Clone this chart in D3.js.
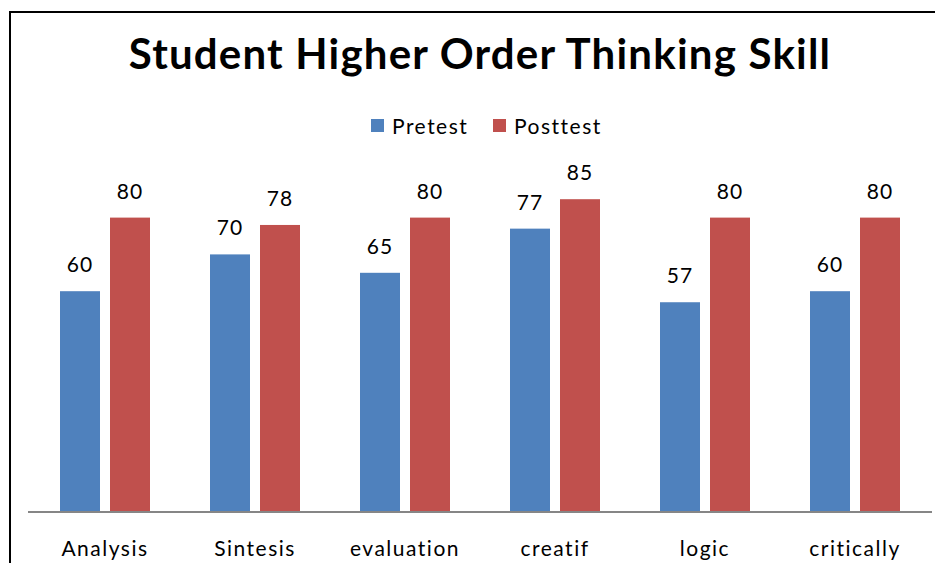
<!DOCTYPE html>
<html>
<head>
<meta charset="utf-8">
<script src="https://cdn.jsdelivr.net/npm/d3@7"></script>
<style>
  body { margin: 0; background: #fff; }
  svg { display: block; font-family: Lato, "Open Sans", sans-serif; }
</style>
</head>
<body>
<svg id="chart" width="935" height="563"></svg>
<script>
const categories = ["Analysis", "Sintesis", "evaluation", "creatif", "logic", "critically"]
const seriesNames = ["Pretest", "Posttest"]
const pretest = [60, 70, 65, 77, 57, 60]
const posttest = [80, 78, 80, 85, 80, 80]
const colors = ["#4F81BD", "#C0504D"]

const data = categories.map((c, i) => ({category: c, values: [pretest[i], posttest[i]]}))

const svg = d3.select("#chart")

// outer frame
svg.append("path")
  .attr("d", "M10,563 L10,12 L935,12")
  .attr("fill", "none")
  .attr("stroke", "#000")
  .attr("stroke-width", 2)

const x = d3.scaleBand()
  .domain(categories)
  .range([30, 930])

const x1 = d3.scaleBand()
  .domain(seriesNames)
  .range([30, 120])
  .paddingInner(0.2)

const y = d3.scaleLinear()
  .domain([0, 100])
  .range([512, 144])

svg.append("text")
  .attr("x", 480)
  .attr("y", 69)
  .attr("text-anchor", "middle")
  .attr("font-size", 42)
  .attr("font-weight", "bold")
  .attr("letter-spacing", 1.2)
  .text("Student Higher Order Thinking Skill")

// legend
const legend = svg.append("g")
const legendX = [371, 493]
seriesNames.forEach((s, i) => {
  legend.append("rect")
    .attr("x", legendX[i]).attr("y", 119)
    .attr("width", 13).attr("height", 13)
    .attr("fill", colors[i])
  legend.append("text")
    .attr("x", legendX[i] + 21).attr("y", 134)
    .attr("font-size", 21)
    .attr("letter-spacing", 1.5)
    .text(s)
})

const groups = svg.append("g")
  .selectAll("g")
  .data(data)
  .join("g")
  .attr("transform", d => `translate(${x(d.category)},0)`)

groups.selectAll("rect")
  .data(d => d.values.map((v, i) => ({key: seriesNames[i], value: v, i})))
  .join("rect")
  .attr("x", d => x1(d.key))
  .attr("y", d => y(d.value))
  .attr("width", x1.bandwidth())
  .attr("height", d => y(0) - y(d.value))
  .attr("fill", d => colors[d.i])

groups.selectAll("text")
  .data(d => d.values.map((v, i) => ({key: seriesNames[i], value: v})))
  .join("text")
  .attr("x", d => x1(d.key) + x1.bandwidth() / 2)
  .attr("y", d => y(d.value) - 19)
  .attr("text-anchor", "middle")
  .attr("font-size", 21)
  .attr("letter-spacing", 1)
  .text(d => d.value)

svg.append("g")
  .attr("transform", "translate(0,512)")
  .call(d3.axisBottom(x).tickSize(0).tickPadding(29).tickSizeOuter(0))
  .call(g => g.select(".domain").attr("stroke", "#868686").attr("stroke-width", 2).attr("d", "M28,0H932"))
  .call(g => g.selectAll("text").attr("font-size", 21).attr("letter-spacing", 1.5)
    .attr("font-family", "Lato, sans-serif").attr("fill", "#000"))
</script>
</body>
</html>
